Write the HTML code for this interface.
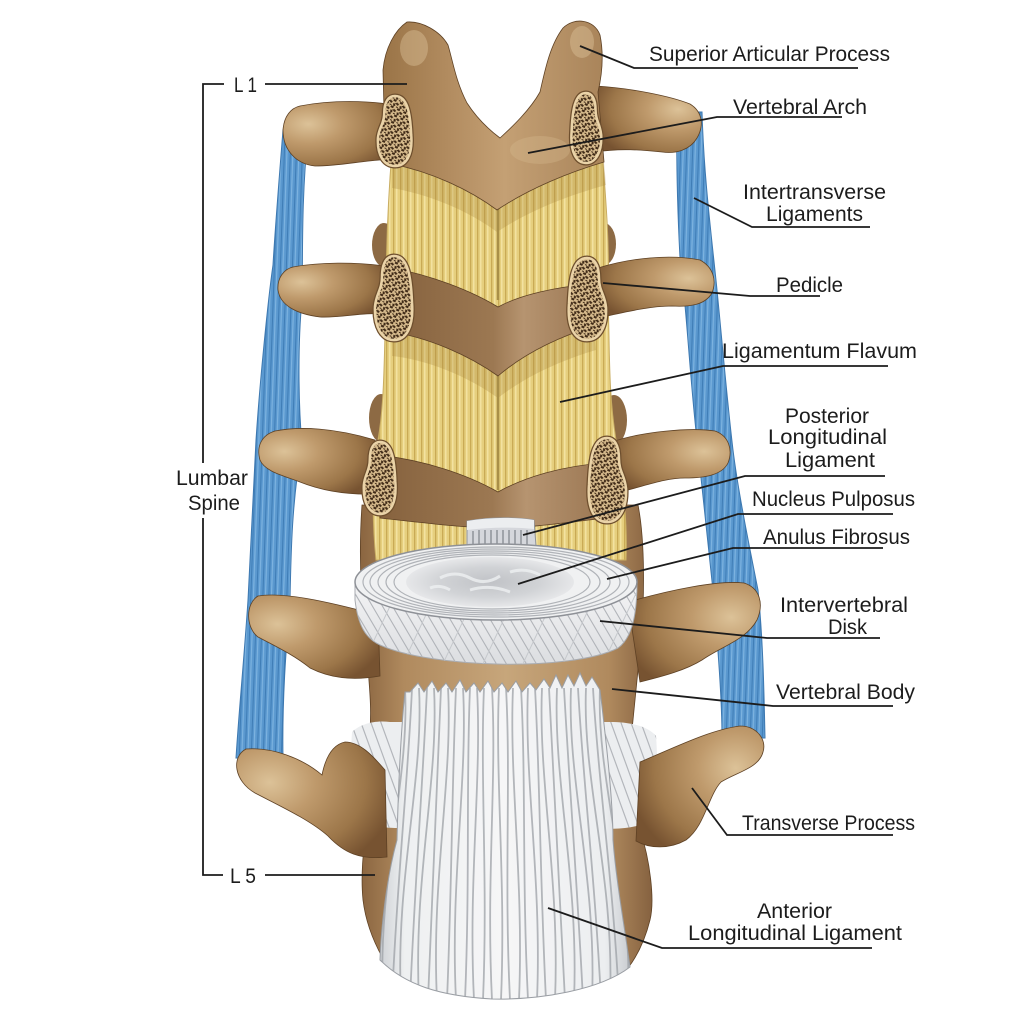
<!DOCTYPE html>
<html><head><meta charset="utf-8"><style>
html,body{margin:0;padding:0;background:#fff;}
svg{display:block;}
text{font-family:"Liberation Sans",Arial,sans-serif;fill:#1c1c1c;font-size:21px;}
</style></head><body>
<svg width="1024" height="1024" viewBox="0 0 1024 1024" xmlns="http://www.w3.org/2000/svg">
<defs>
<pattern id="bl" width="6" height="80" patternUnits="userSpaceOnUse" patternTransform="rotate(2)"><rect width="6" height="80" fill="#5a98cf"/><rect x="1" width="1" height="80" fill="#3f7db6"/><rect x="3.5" width="1.2" height="80" fill="#7db3e0"/></pattern>
<pattern id="fl" width="7" height="60" patternUnits="userSpaceOnUse"><rect width="7" height="60" fill="#e6cf7e"/><rect x="1" width="1.3" height="60" fill="#c9aa55"/><rect x="4" width="1.5" height="60" fill="#f3e2a0"/></pattern>
<pattern id="sp" width="7" height="7" patternUnits="userSpaceOnUse" patternTransform="rotate(25)"><rect width="7" height="7" fill="#d6ba8c"/><path d="M0,0h3v2h-3zM4,2l3,1-1,2-2-1zM1,4l2,0 1,2-2,1zM5,6h2v1h-2zM3,3h1v1h-1z" fill="#3f2a17"/></pattern>
<radialGradient id="tpL" cx="0.22" cy="0.35" r="0.85"><stop offset="0" stop-color="#dcc298"/><stop offset="0.35" stop-color="#bf9a6c"/><stop offset="0.75" stop-color="#9c7649"/><stop offset="1" stop-color="#775331"/></radialGradient>
<radialGradient id="tpR" cx="0.78" cy="0.35" r="0.85"><stop offset="0" stop-color="#dcc298"/><stop offset="0.35" stop-color="#bf9a6c"/><stop offset="0.75" stop-color="#9c7649"/><stop offset="1" stop-color="#775331"/></radialGradient>
<linearGradient id="arch" x1="0" y1="0" x2="1" y2="0"><stop offset="0" stop-color="#9a7447"/><stop offset="0.3" stop-color="#b28c60"/><stop offset="0.55" stop-color="#c4a074"/><stop offset="1" stop-color="#a9845a"/></linearGradient>
<linearGradient id="lam" x1="0" y1="0" x2="1" y2="0"><stop offset="0" stop-color="#86623e"/><stop offset="0.5" stop-color="#9c7852"/><stop offset="0.65" stop-color="#b69470"/><stop offset="1" stop-color="#9a7652"/></linearGradient>
<linearGradient id="bodyG" x1="0" y1="0" x2="1" y2="0"><stop offset="0" stop-color="#8a6540"/><stop offset="0.15" stop-color="#b08a5e"/><stop offset="0.5" stop-color="#c7a67b"/><stop offset="0.85" stop-color="#b08a5e"/><stop offset="1" stop-color="#866240"/></linearGradient>
<linearGradient id="allG" x1="0" y1="0" x2="1" y2="0"><stop offset="0" stop-color="#cfd2d6"/><stop offset="0.1" stop-color="#eef0f1"/><stop offset="0.5" stop-color="#f6f6f7"/><stop offset="0.9" stop-color="#eceef0"/><stop offset="1" stop-color="#c9ccd0"/></linearGradient>
<linearGradient id="sideG" x1="0" y1="0" x2="0" y2="1"><stop offset="0" stop-color="#f4f4f5"/><stop offset="1" stop-color="#dcdee1"/></linearGradient>
<radialGradient id="nuc" cx="0.5" cy="0.5" r="0.5"><stop offset="0" stop-color="#c0c2c6"/><stop offset="0.6" stop-color="#d1d3d6"/><stop offset="1" stop-color="#e6e7e9"/></radialGradient>
<clipPath id="allclip"><path d="M405,692 L410,692 418,683 424,692 432,681 438,692 446,683 452,692 460,680 466,692 474,683 480,692 488,681 494,692 502,683 508,692 516,681 522,692 530,683 536,690 544,679 550,688 556,675 562,688 568,675 574,686 580,673 586,686 592,677 600,690 C606,740 613,800 613,840 C616,880 624,923 630,967 C600,990 540,1000 492,999 C440,996 405,985 380,960 C381,930 386,880 397,840 C398,800 400,740 405,692 Z"/></clipPath>
<clipPath id="sideclip"><path d="M355,582 L355,600 C358,625 365,638 380,645 C430,668 570,672 618,648 C632,638 637,615 637,582 Z"/></clipPath>
<clipPath id="ldclip"><path d="M352,732 C360,724 375,720 390,722 L610,722 C630,722 648,726 656,736 C658,760 657,790 655,818 C640,828 620,830 600,828 L400,828 C380,828 362,825 356,818 C352,790 350,760 352,732 Z"/></clipPath>
</defs>

<!-- blue intertransverse ligaments -->
<path d="M283,130 C279,180 275,230 273,265 C268,300 260,380 256,440 C253,500 250,560 248,600 C244,660 239,710 236,758 L283,758 C282,700 286,650 290,600 C291,550 292,500 302,445 C298,400 298,340 302,300 C303,260 301,200 308,135 Z" fill="url(#bl)" stroke="#3d78b0" stroke-width="1"/>
<path d="M677,112 C676,170 678,220 680,258 C686,300 690,380 697,440 C703,500 710,560 714,600 C718,650 722,700 722,738 L765,738 C764,690 763,640 758,590 C748,540 738,490 733,450 C727,400 722,340 717,290 C712,240 704,180 702,112 Z" fill="url(#bl)" stroke="#3d78b0" stroke-width="1"/>

<!-- vertebral body -->
<path d="M362,505 L638,505 C645,540 645,600 640,650 L632,730 L640,830 C650,860 655,900 650,920 C645,940 638,955 628,968 L385,962 C375,945 366,925 363,900 C360,870 365,840 367,820 L370,730 C372,700 368,680 368,660 C362,620 358,560 362,505 Z" fill="url(#bodyG)" stroke="#5e4124" stroke-width="0.8"/>

<!-- lower disk -->
<path d="M352,732 C360,724 375,720 390,722 L610,722 C630,722 648,726 656,736 C658,760 657,790 655,818 C640,828 620,830 600,828 L400,828 C380,828 362,825 356,818 C352,790 350,760 352,732 Z" fill="#eceef0"/>
<g clip-path="url(#ldclip)" stroke="#b3b6bb" stroke-width="1.2" fill="none">
<path d="M320,720l40,110M330,720l40,110M340,720l40,110M350,720l40,110M360,720l40,110M370,720l40,110M380,720l40,110M600,720l40,110M610,720l40,110M620,720l40,110M630,720l40,110M640,720l40,110M650,720l40,110M590,720l40,110"/>
</g>

<!-- articular bumps -->
<ellipse cx="384" cy="245" rx="12" ry="22" fill="#8d6a44"/>
<ellipse cx="604" cy="244" rx="12" ry="21" fill="#8d6a44"/>
<ellipse cx="381" cy="418" rx="12" ry="24" fill="#8d6a44"/>
<ellipse cx="614" cy="420" rx="13" ry="25" fill="#8d6a44"/>

<!-- ligamentum flavum -->
<path d="M392,150 L602,150 C606,200 610,250 608,300 C610,350 608,390 616,440 C622,480 628,520 626,560 L376,560 C372,520 372,480 378,440 C385,400 384,350 386,300 C386,250 388,200 392,150 Z" fill="url(#fl)" stroke="#c9ad62" stroke-width="1"/>
<path d="M392,164 C432,172 470,190 497,210 C530,188 570,172 604,162 L606,185 C570,195 530,210 497,232 C470,212 432,195 392,188 Z" fill="#a8893f" opacity="0.3"/>
<path d="M392,332 C430,338 470,356 498,376 C526,352 562,336 594,326 L596,350 C562,360 526,376 498,398 C470,378 430,360 392,356 Z" fill="#a8893f" opacity="0.3"/>
<path d="M498,205 L498,300 M498,372 L498,490" stroke="#a98f48" stroke-width="2.5"/>

<!-- transverse processes -->
<g stroke="#5e4124" stroke-width="0.8">
<path d="M300,106 C330,100 370,100 398,106 L398,160 C372,158 345,166 315,166 C296,164 283,150 283,130 C284,116 291,108 300,106 Z" fill="url(#tpL)"/>
<path d="M596,86 C630,88 670,96 690,104 C703,112 704,126 697,138 C690,150 676,154 662,152 C642,150 620,148 596,152 Z" fill="url(#tpR)"/>
<path d="M293,267 C320,262 355,262 385,266 L385,314 C362,312 342,318 320,317 C296,314 280,305 278,290 C277,278 284,269 293,267 Z" fill="url(#tpL)"/>
<path d="M598,268 C630,258 670,254 700,260 C713,267 717,280 712,293 C705,305 690,307 672,306 C650,306 625,312 598,318 Z" fill="url(#tpR)"/>
<path d="M275,431 C300,426 335,428 375,440 L375,494 C345,495 320,490 300,482 C285,476 265,472 260,460 C256,446 262,435 275,431 Z" fill="url(#tpL)"/>
<path d="M612,442 C640,432 690,427 715,431 C729,436 733,450 728,463 C722,475 705,478 685,478 C665,478 645,486 620,492 Z" fill="url(#tpR)"/>
<path d="M258,596 C282,592 322,600 378,615 L380,676 C352,681 330,678 310,668 C294,655 275,646 258,637 C246,628 245,604 258,596 Z" fill="url(#tpL)"/>
<path d="M628,602 C670,590 718,580 744,583 C760,588 764,604 757,620 C746,640 722,646 702,660 C686,670 664,676 640,682 Z" fill="url(#tpR)"/>
<path d="M246,749 C272,747 302,758 322,775 C325,760 331,745 345,742 C360,742 372,755 385,770 L387,857 C360,860 344,853 328,836 C310,820 280,806 255,793 C234,781 231,757 246,749 Z" fill="url(#tpL)"/>
<path d="M640,762 C678,746 710,730 740,726 C757,726 767,740 763,752 C759,768 737,772 721,782 C708,796 705,826 686,840 C670,849 650,849 636,841 Z" fill="url(#tpR)"/>
</g>

<!-- laminae -->
<path d="M383,70 C385,48 395,30 407,22 C422,21 440,31 448,45 C453,62 456,82 467,103 C478,120 492,132 500,138 C512,127 530,110 540,92 C545,70 550,45 563,28 C574,17 594,19 600,35 C604,55 602,75 598,92 L604,162 C570,172 530,188 497,210 C470,190 432,172 392,164 L384,110 Z" fill="url(#arch)" stroke="#5e4124" stroke-width="0.8"/>
<ellipse cx="414" cy="48" rx="14" ry="18" fill="#e2c9a0" opacity="0.4"/>
<ellipse cx="582" cy="42" rx="12" ry="16" fill="#e2c9a0" opacity="0.4"/>
<ellipse cx="540" cy="150" rx="30" ry="14" fill="#d8bb90" opacity="0.35"/>
<path d="M392,268 C430,275 470,290 498,307 C520,295 555,287 592,284 L594,326 C562,336 526,352 498,376 C470,356 430,338 392,332 Z" fill="url(#lam)" stroke="#5e4124" stroke-width="0.8"/>
<path d="M378,455 C425,460 468,475 498,492 C525,477 562,466 604,463 L606,518 C570,522 530,528 498,528 C465,528 425,523 380,518 Z" fill="url(#lam)" stroke="#5e4124" stroke-width="0.8"/>

<!-- pedicles -->
<g stroke="#6e4f2e" stroke-width="5" fill="none">
<path d="M395,96 C407.6,96 410.3,113.5 411.2,134.5 C413,155.5 405.8,166 395,166 C384.2,166 377,155.5 377.9,138 C378.8,127.5 384.2,124 384.2,113.5 C384.2,101.25 388.7,96 395,96 Z"/>
<path d="M586,93 C574.8,93 572.4,110.5 571.6,131.5 C570,152.5 576.4,163 586,163 C595.6,163 602,152.5 601.2,135 C600.4,124.5 595.6,121 595.6,110.5 C595.6,98.25 591.6,93 586,93 Z"/>
<path d="M394,256 C408,256 411,277 412,302.2 C414,327.4 406,340 394,340 C382,340 374,327.4 375,306.4 C376,293.8 382,289.6 382,277 C382,262.3 387,256 394,256 Z"/>
<path d="M587,258 C573,258 570,278.5 569,303.1 C567,327.7 575,340 587,340 C599,340 607,327.7 606,307.2 C605,294.9 599,290.8 599,278.5 C599,264.2 594,258 587,258 Z"/>
<path d="M380,442 C391.9,442 394.45,460 395.3,481.6 C397,503.2 390.2,514 380,514 C369.8,514 363,503.2 363.85,485.2 C364.7,474.4 369.8,470.8 369.8,460 C369.8,447.4 374.05,442 380,442 Z"/>
<path d="M607,438 C593,438 590,459 589,484.2 C587,509.4 595,522 607,522 C619,522 627,509.4 626,488.4 C625,475.8 619,471.6 619,459 C619,444.3 614,438 607,438 Z"/>
</g>
<g stroke="#ead3a8" stroke-width="2.5" fill="url(#sp)">
<path d="M395,96 C407.6,96 410.3,113.5 411.2,134.5 C413,155.5 405.8,166 395,166 C384.2,166 377,155.5 377.9,138 C378.8,127.5 384.2,124 384.2,113.5 C384.2,101.25 388.7,96 395,96 Z"/>
<path d="M586,93 C574.8,93 572.4,110.5 571.6,131.5 C570,152.5 576.4,163 586,163 C595.6,163 602,152.5 601.2,135 C600.4,124.5 595.6,121 595.6,110.5 C595.6,98.25 591.6,93 586,93 Z"/>
<path d="M394,256 C408,256 411,277 412,302.2 C414,327.4 406,340 394,340 C382,340 374,327.4 375,306.4 C376,293.8 382,289.6 382,277 C382,262.3 387,256 394,256 Z"/>
<path d="M587,258 C573,258 570,278.5 569,303.1 C567,327.7 575,340 587,340 C599,340 607,327.7 606,307.2 C605,294.9 599,290.8 599,278.5 C599,264.2 594,258 587,258 Z"/>
<path d="M380,442 C391.9,442 394.45,460 395.3,481.6 C397,503.2 390.2,514 380,514 C369.8,514 363,503.2 363.85,485.2 C364.7,474.4 369.8,470.8 369.8,460 C369.8,447.4 374.05,442 380,442 Z"/>
<path d="M607,438 C593,438 590,459 589,484.2 C587,509.4 595,522 607,522 C619,522 627,509.4 626,488.4 C625,475.8 619,471.6 619,459 C619,444.3 614,438 607,438 Z"/>
</g>

<!-- posterior longitudinal ligament stub -->
<path d="M467,521 C490,517 515,517 534,520 L536,546 C515,551 490,551 467,547 Z" fill="#d5d7dc" stroke="#8f939a" stroke-width="1"/>
<path d="M467,521 C490,517 515,517 534,520 L534,529 C515,527 490,527 467,530 Z" fill="#eceef0"/>
<path d="M473,531V547M479,530V548M485,530V548M491,530V549M497,530V549M503,530V549M509,530V549M515,530V549M521,530V548M527,530V548" stroke="#8f939a" stroke-width="1.5"/>

<!-- intervertebral disk -->
<path d="M355,582 L355,600 C358,625 365,638 380,645 C430,668 570,672 618,648 C632,638 637,615 637,582 Z" fill="url(#sideG)" stroke="#a8abb0" stroke-width="1"/>
<g clip-path="url(#sideclip)" fill="none">
<path d="M330,585l50,85M340,585l50,85M350,585l50,85M360,585l50,85M370,585l50,85M380,585l50,85M390,585l50,85M400,585l50,85M410,585l50,85M420,585l50,85M430,585l50,85M440,585l50,85M450,585l50,85M460,585l50,85M470,585l50,85M480,585l50,85M490,585l50,85M500,585l50,85M510,585l50,85M520,585l50,85M530,585l50,85M540,585l50,85M550,585l50,85M560,585l50,85M570,585l50,85M580,585l50,85M590,585l50,85M600,585l50,85M610,585l50,85M620,585l50,85M630,585l50,85" stroke="#b1b4b9" stroke-width="1.1"/>
<path d="M400,585l-40,85M440,585l-40,85M480,585l-40,85M520,585l-40,85M560,585l-40,85M600,585l-40,85M640,585l-40,85" stroke="#c6c9cd" stroke-width="1"/>
</g>
<ellipse cx="496" cy="582" rx="141" ry="38" fill="#f0f1f2" stroke="#8e9197" stroke-width="1.5"/>
<g fill="none" stroke="#b0b3b8" stroke-width="1.2">
<ellipse cx="496" cy="582" rx="133" ry="35"/>
<ellipse cx="495" cy="582" rx="125" ry="33"/>
<ellipse cx="494" cy="582" rx="116" ry="31"/>
<ellipse cx="493" cy="582" rx="107" ry="29"/>
<ellipse cx="492" cy="582" rx="98" ry="27"/>
</g>
<ellipse cx="490" cy="582" rx="84" ry="25" fill="url(#nuc)"/>
<path d="M440,578 q15,-8 30,0 q15,8 30,-2 M470,590 q20,-6 40,2 M430,588 q10,-4 20,2 M510,572 q15,-5 30,3" stroke="#eef0f1" stroke-width="3" fill="none" opacity="0.8"/>

<!-- anterior longitudinal ligament -->
<path d="M405,692 L410,692 418,683 424,692 432,681 438,692 446,683 452,692 460,680 466,692 474,683 480,692 488,681 494,692 502,683 508,692 516,681 522,692 530,683 536,690 544,679 550,688 556,675 562,688 568,675 574,686 580,673 586,686 592,677 600,690 C606,740 613,800 613,840 C616,880 624,923 630,967 C600,990 540,1000 492,999 C440,996 405,985 380,960 C381,930 386,880 397,840 C398,800 400,740 405,692 Z" fill="url(#allG)" stroke="#9a9ea4" stroke-width="1"/>
<g clip-path="url(#allclip)" fill="none">
<path d="M405,688C410,780 377,880 383,1000M412,688C408,780 397,880 392,1000M419,688C424,780 395,880 401,1000M427,688C423,780 415,880 410,1000M434,688C439,780 413,880 419,1000M441,688C437,780 433,880 428,1000M448,688C453,780 431,880 437,1000M456,688C452,780 452,880 447,1000M463,688C468,780 450,880 456,1000M470,688C466,780 470,880 465,1000M477,688C482,780 468,880 474,1000M484,688C480,780 488,880 483,1000M492,688C497,780 486,880 492,1000M499,688C495,780 506,880 501,1000M506,688C511,780 504,880 510,1000M513,688C509,780 524,880 519,1000M521,688C526,780 522,880 528,1000M528,688C524,780 542,880 537,1000M535,688C540,780 540,880 546,1000M542,688C538,780 560,880 555,1000M549,688C554,780 559,880 565,1000M557,688C553,780 579,880 574,1000M564,688C569,780 577,880 583,1000M571,688C567,780 597,880 592,1000M578,688C583,780 595,880 601,1000M586,688C582,780 615,880 610,1000M593,688C598,780 613,880 619,1000M600,688C596,780 633,880 628,1000" stroke="#9ca0a6" stroke-width="1.8" opacity="0.75"/>
</g>

<!-- leader lines -->
<g stroke="#1c1c1c" stroke-width="1.8" fill="none">
<path d="M580,46 L634,68 L858,68"/>
<path d="M528,153 L717,117 L842,117"/>
<path d="M694,198 L752,227 L870,227"/>
<path d="M603,283 L750,296 L820,296"/>
<path d="M560,402 L723,366 L888,366"/>
<path d="M523,535 L745,476 L885,476"/>
<path d="M518,584 L738,514 L893,514"/>
<path d="M607,579 L733,548 L883,548"/>
<path d="M600,621 L767,638 L880,638"/>
<path d="M612,689 L773,706 L893,706"/>
<path d="M692,788 L727,835 L893,835"/>
<path d="M548,908 L662,948 L872,948"/>
<path d="M224,84 H203 V463 M203,518 V875 H223"/>
<path d="M265,84 H407"/>
<path d="M265,875 H375"/>
</g>

<!-- labels -->
<text x="649" y="61" textLength="241" lengthAdjust="spacingAndGlyphs">Superior Articular Process</text>
<text x="733" y="114" textLength="134" lengthAdjust="spacingAndGlyphs">Vertebral Arch</text>
<text x="743" y="199" textLength="143" lengthAdjust="spacingAndGlyphs">Intertransverse</text>
<text x="766" y="221" textLength="97" lengthAdjust="spacingAndGlyphs">Ligaments</text>
<text x="776" y="292" textLength="67" lengthAdjust="spacingAndGlyphs">Pedicle</text>
<text x="722" y="358" textLength="195" lengthAdjust="spacingAndGlyphs">Ligamentum Flavum</text>
<text x="785" y="423" textLength="84" lengthAdjust="spacingAndGlyphs">Posterior</text>
<text x="768" y="444" textLength="119" lengthAdjust="spacingAndGlyphs">Longitudinal</text>
<text x="785" y="467" textLength="90" lengthAdjust="spacingAndGlyphs">Ligament</text>
<text x="752" y="506" textLength="163" lengthAdjust="spacingAndGlyphs">Nucleus Pulposus</text>
<text x="763" y="544" textLength="147" lengthAdjust="spacingAndGlyphs">Anulus Fibrosus</text>
<text x="780" y="612" textLength="128" lengthAdjust="spacingAndGlyphs">Intervertebral</text>
<text x="828" y="634" textLength="39" lengthAdjust="spacingAndGlyphs">Disk</text>
<text x="776" y="699" textLength="139" lengthAdjust="spacingAndGlyphs">Vertebral Body</text>
<text x="742" y="830" textLength="173" lengthAdjust="spacingAndGlyphs">Transverse Process</text>
<text x="757" y="918" textLength="75" lengthAdjust="spacingAndGlyphs">Anterior</text>
<text x="688" y="940" textLength="214" lengthAdjust="spacingAndGlyphs">Longitudinal Ligament</text>
<text x="234" y="92" textLength="23" lengthAdjust="spacingAndGlyphs">L 1</text>
<text x="176" y="485" textLength="72" lengthAdjust="spacingAndGlyphs">Lumbar</text>
<text x="188" y="510" textLength="52" lengthAdjust="spacingAndGlyphs">Spine</text>
<text x="230" y="883" textLength="26" lengthAdjust="spacingAndGlyphs">L 5</text>
</svg>
</body></html>
